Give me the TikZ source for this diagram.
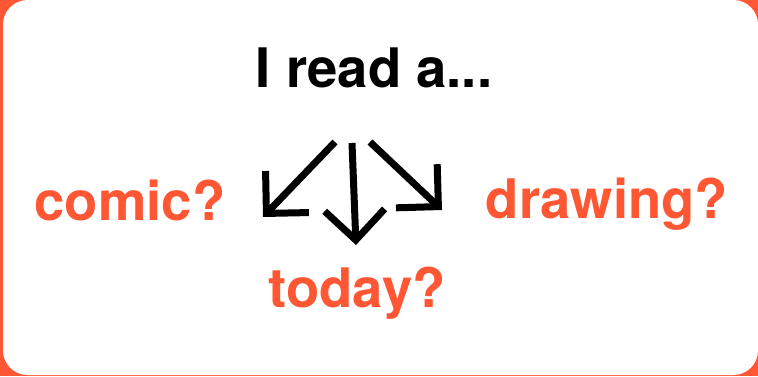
\documentclass[tikz,border=0pt]{standalone}
\usepackage{fontspec}
\setmainfont{TeX Gyre Heros}
\usepackage{tikz}
\usetikzlibrary{arrows.meta,positioning}
\definecolor{rdOrange}{HTML}{FF5733}
\definecolor{rdInk}{HTML}{000000}

\begin{document}
\begin{tikzpicture}[x=0.02cm,y=-0.02cm,
    word/.style={anchor=base,inner sep=0pt,font=\fontsize{31}{31}\selectfont\bfseries},
    choice/.style={word,text=rdOrange},
    pointer/.style={-{Straight Barb[length=0.6cm,width=1.2cm]},line width=0.14cm,rdInk}]

% frame
\useasboundingbox (0,0) rectangle (758,376);
\fill[rdOrange] (0,0) rectangle (758,376);
\fill[white,rounded corners=14] (3,0) rectangle (758,375);

% question and the three answers
\node[word] (head) at (374,87) {I read a...};
\node[choice] (comic) at (130,220) {comic?};
\node[choice] (drawing) at (607,218) {drawing?};
\node[choice] (today) at (357,307) {today?};

% arrows
\coordinate (left0) at (335,142);
\coordinate (left1) at (263,217);
\coordinate (mid0) at (352,143);
\coordinate (mid1) at (356,245);
\coordinate (right0) at (370,142);
\coordinate (right1) at (442,210);
\draw[pointer] (left0) -- (left1);
\draw[pointer] (mid0) -- (mid1);
\draw[pointer] (right0) -- (right1);

\end{tikzpicture}
\end{document}
